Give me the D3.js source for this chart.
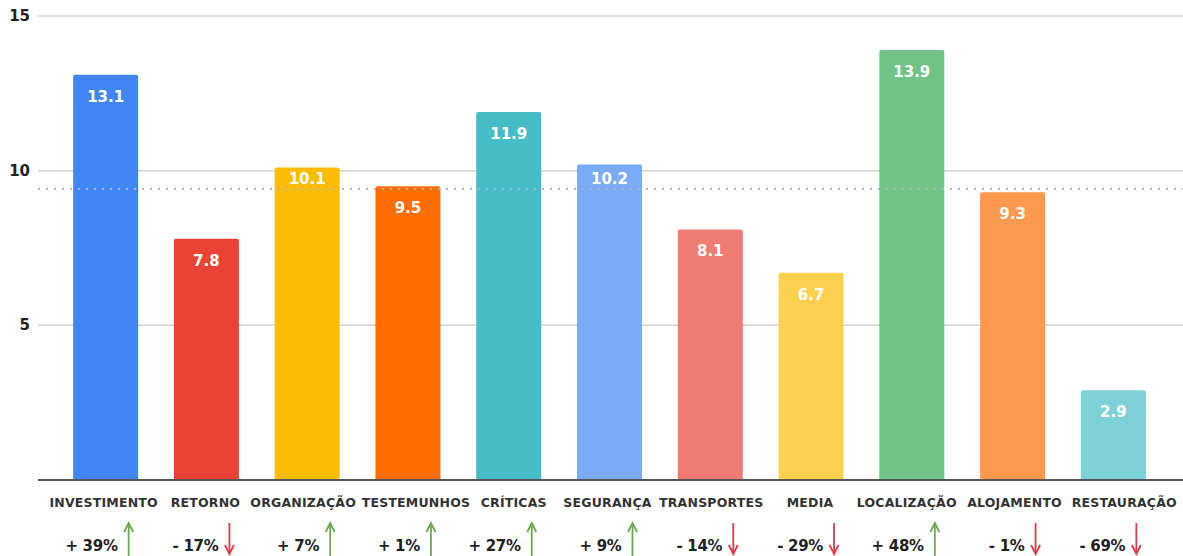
<!DOCTYPE html>
<html>
<head>
<meta charset="utf-8">
<script src="https://d3js.org/d3.v7.min.js"></script>
<style>
  body { margin: 0; background: #fff; }
  svg text { font-family: "DejaVu Sans", sans-serif; font-weight: bold; }
  .ytick text { font-size: 15px; fill: #222; }
  .cat { font-size: 12.5px; fill: #333; letter-spacing: 0.2px; }
  .pct { font-size: 15px; fill: #222; letter-spacing: -0.3px; }
  .val { font-size: 15px; fill: #fff; }
</style>
</head>
<body>
<svg width="1183" height="556"></svg>
<script>
var categories = ["INVESTIMENTO", "RETORNO", "ORGANIZAÇÃO", "TESTEMUNHOS", "CRÍTICAS", "SEGURANÇA",
                  "TRANSPORTES", "MEDIA", "LOCALIZAÇÃO", "ALOJAMENTO", "RESTAURAÇÃO"];
var values = [13.1, 7.8, 10.1, 9.5, 11.9, 10.2, 8.1, 6.7, 13.9, 9.3, 2.9];
var changes = ["+ 39%", "- 17%", "+ 7%", "+ 1%", "+ 27%", "+ 9%", "- 14%", "- 29%", "+ 48%", "- 1%", "- 69%"];
var trend = ["up", "down", "up", "up", "up", "up", "down", "down", "up", "down", "down"];
var colors = ["#4285f4", "#ea4335", "#fbbc04", "#ff6d01", "#46bdc6", "#7baaf7",
              "#f07b72", "#fcd04f", "#71c287", "#ff994d", "#7ed1d7"];
var yTicks = [5, 10, 15];
// the category labels in the original are hand placed, not exactly centred
var labelNudge = [-2, -1, -4, 8, 5, -2, 1, -1, -5, 2, 11];

var svg = d3.select("svg");
var plotLeft = 38, plotRight = 1183, baseY = 480, topY = 16;

var x = d3.scaleBand()
    .domain(categories)
    .range([55, 1164])
    .paddingInner(0.355)
    .paddingOuter(0.18);

var y = d3.scaleLinear()
    .domain([0, 15])
    .range([baseY, topY]);

// gridlines
var grid = svg.append("g").attr("class", "ytick");
grid.selectAll("line")
    .data(yTicks)
  .enter().append("line")
    .attr("x1", plotLeft).attr("x2", plotRight)
    .attr("y1", d => y(d)).attr("y2", d => y(d))
    .attr("stroke", "#d0d0d0")
    .attr("stroke-width", 1.5);
grid.selectAll("text")
    .data(yTicks)
  .enter().append("text")
    .attr("x", 30)
    .attr("y", d => y(d) + 5)
    .attr("text-anchor", "end")
    .text(d => d);

// bars
var bw = x.bandwidth();
svg.selectAll(".bar")
    .data(values)
  .enter().append("path")
    .attr("class", "bar")
    .attr("fill", (d, i) => colors[i])
    .attr("d", function(d, i) {
        var x0 = x(categories[i]), y0 = y(d), r = 2;
        return "M" + x0 + "," + baseY + "V" + (y0 + r) + "Q" + x0 + "," + y0 + " " + (x0 + r) + "," + y0 +
               "H" + (x0 + bw - r) + "Q" + (x0 + bw) + "," + y0 + " " + (x0 + bw) + "," + (y0 + r) + "V" + baseY + "Z";
    });

var avg = d3.mean(values);
var avgY = y(avg);

// value labels, pushed above the average line when they would sit on it
svg.selectAll(".val")
    .data(values)
  .enter().append("text")
    .attr("class", "val")
    .attr("x", (d, i) => x(categories[i]) + bw / 2)
    .attr("y", function(d) {
        var b = y(d) + 27;
        if (b > avgY - 4 && b - 12 < avgY + 3) b = avgY - 5;
        return b;
    })
    .attr("text-anchor", "middle")
    .text(d => d.toFixed(1));

// baseline
svg.append("line")
    .attr("x1", plotLeft).attr("x2", plotRight)
    .attr("y1", baseY).attr("y2", baseY)
    .attr("stroke", "#555")
    .attr("stroke-width", 2);

// average line
svg.append("line")
    .attr("x1", plotLeft).attr("x2", plotRight)
    .attr("y1", avgY).attr("y2", avgY)
    .attr("stroke", "#aeb3b8")
    .attr("stroke-width", 2)
    .attr("stroke-dasharray", "2,6");

// category labels
svg.selectAll(".cat")
    .data(categories)
  .enter().append("text")
    .attr("class", "cat")
    .attr("x", (d, i) => x(d) + bw / 2 + labelNudge[i])
    .attr("y", 507)
    .attr("text-anchor", "middle")
    .text(d => d);

// change labels + arrows
svg.selectAll(".pct")
    .data(changes)
  .enter().append("text")
    .attr("class", "pct")
    .attr("x", (d, i) => x(categories[i]) + bw / 2 + 12)
    .attr("y", 551)
    .attr("text-anchor", "end")
    .text(d => d);

var arrows = svg.selectAll(".arrow")
    .data(trend)
  .enter().append("g")
    .attr("class", "arrow")
    .attr("transform", (d, i) => "translate(" + (x(categories[i]) + bw / 2 + 23) + ",0)");
arrows.append("line")
    .attr("x1", 0).attr("x2", 0)
    .attr("y1", d => d == "up" ? 525 : 523)
    .attr("y2", d => d == "up" ? 556 : 553)
    .attr("stroke", d => d == "up" ? "#6aa84f" : "#e03a4e")
    .attr("stroke-width", 1.8);
arrows.append("path")
    .attr("d", d => d == "up" ? "M-4.5,532L0,523L4.5,532" : "M-4.5,545L0,554L4.5,545")
    .attr("fill", "none")
    .attr("stroke", d => d == "up" ? "#6aa84f" : "#e03a4e")
    .attr("stroke-width", 1.8);
</script>
</body>
</html>
